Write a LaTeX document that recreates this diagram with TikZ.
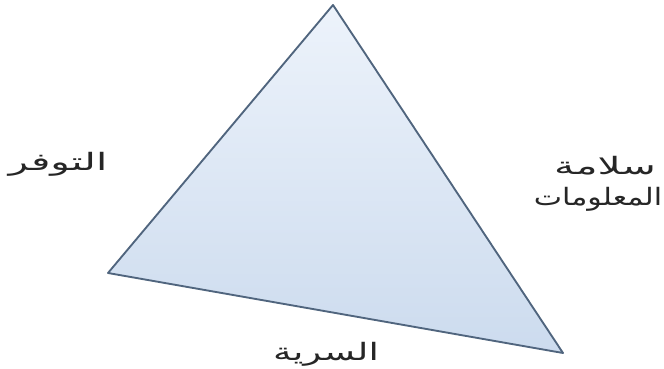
\documentclass[tikz,border=0pt]{standalone}
\usepackage{fontspec}
\newfontfamily\arabicfont[Script=Arabic]{DejaVu Sans}
\TeXXeTstate=1
\usetikzlibrary{positioning}
\definecolor{edgeblue}{HTML}{50657E}
\definecolor{filltop}{HTML}{EDF3FB}
\definecolor{fillbot}{HTML}{CCDBEE}
\tikzset{
  tri/.style={draw=edgeblue,line width=1.4pt,line join=round,top color=filltop,bottom color=fillbot},
  lbl/.style={font=\arabicfont\fontsize{18}{22}\selectfont,text=black!85,inner sep=0pt},
}

\begin{document}
\begin{tikzpicture}[x=0.75pt,y=-0.75pt]
  \useasboundingbox (0,0) rectangle (664,368);
  \coordinate (top) at (333,5);
  \coordinate (bl) at (108,273);
  \coordinate (br) at (563,353);
  \path[tri] (top) -- (bl) -- (br) -- cycle;
  \node[lbl,xscale=1.69] (avail) at (58,164) {\beginR التوفر\endR};
  \node[lbl,xscale=1.69] (integ) at (605,166) {\beginR سلامة\endR};
  \node[lbl,xscale=1.25] (info) at (598,199) {\beginR المعلومات\endR};
  \node[lbl,xscale=1.55] (conf) at (326,354) {\beginR السرية\endR};
\end{tikzpicture}
\end{document}
